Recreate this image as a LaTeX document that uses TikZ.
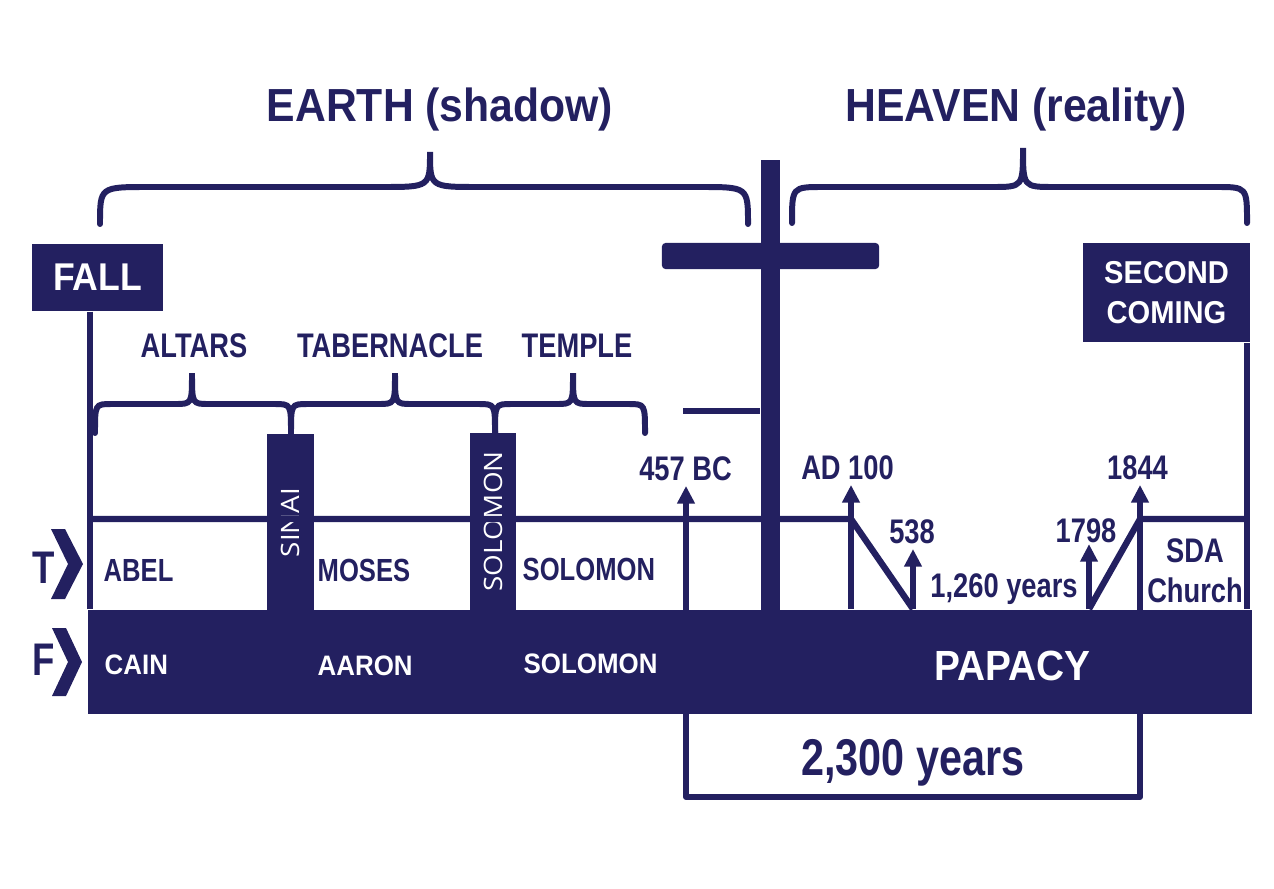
\documentclass[tikz,border=0pt]{standalone}
\usepackage{fontspec}
\setmainfont{Liberation Sans}
\newfontfamily\wideface[FakeStretch=0.92]{Liberation Sans}
\newfontfamily\narrowface[FakeStretch=0.8]{Liberation Sans}
\newfontfamily\pillarface[FakeStretch=1.1]{Open Sans}
\usetikzlibrary{arrows.meta}
\definecolor{chart_navy}{RGB}{35,32,96}

\tikzset{
  navyline/.style={draw=chart_navy, line width=1.8pt, line join=round},
  bracket/.style={draw=chart_navy, line width=1.7pt, line cap=round},
  datearrow/.style={draw=chart_navy, line width=1.7pt, line join=round,
    -{Triangle[width=4.8pt,length=5pt]}},
  navyblock/.style={fill=chart_navy, inner sep=0pt},
  headlabel/.style={anchor=base, inner sep=0pt, text=chart_navy,
    font=\wideface\bfseries\fontsize{13.2}{16}\selectfont},
  eralabel/.style={anchor=base, inner sep=0pt, text=chart_navy,
    font=\narrowface\bfseries\fontsize{9.7}{12}\selectfont},
  datelabel/.style={anchor=base, inner sep=0pt, text=chart_navy,
    font=\narrowface\bfseries\fontsize{9.7}{11.4}\selectfont},
  truelabel/.style={anchor=base west, inner sep=0pt, text=chart_navy,
    font=\narrowface\bfseries\fontsize{9.1}{11}\selectfont},
  falselabel/.style={anchor=base west, inner sep=0pt, text=white,
    font=\wideface\bfseries\fontsize{8}{10}\selectfont},
  pillar/.style={navyblock, rotate=90, text=white,
    font=\pillarface\fontsize{7.2}{9}\selectfont,
    minimum width=1.76cm, minimum height=0.46cm},
  rowmark/.style={anchor=base west, inner sep=0pt, text=chart_navy,
    font=\narrowface\bfseries\fontsize{13}{15}\selectfont},
}

% left x, tip x, right x, bar y, tip y, end y, curl
\newcommand{\topbrace}[7]{%
  \draw[bracket] (#1,#6) .. controls (#1,#4) .. (#1+#7,#4) -- (#2-#7,#4)
    .. controls (#2,#4) .. (#2,#5) .. controls (#2,#4) .. (#2+#7,#4)
    -- (#3-#7,#4) .. controls (#3,#4) .. (#3,#6);}

\begin{document}
\begin{tikzpicture}[x=0.01cm, y=-0.01cm]
  \useasboundingbox (0,0) rectangle (1274,888);

  % earth / heaven
  \node[headlabel] (earth) at (440,122) {EARTH (shadow)};
  \node[headlabel] (heaven) at (1016,122) {HEAVEN (reality)};
  \topbrace{100}{430}{748}{187}{152}{224}{48}
  \topbrace{792}{1023}{1247}{187}{148}{223}{31}

  % fall, cross, second coming
  \node[navyblock, minimum width=1.31cm, minimum height=0.67cm, text=white,
        font=\wideface\bfseries\fontsize{11}{13}\selectfont]
        (fall) at (97.5,277.5) {FALL};
  \node[navyblock, minimum width=1.67cm, minimum height=0.99cm, align=center,
        text=white, font=\wideface\bfseries\fontsize{9}{11.4}\selectfont]
        (second) at (1166.5,292.5) {SECOND\\COMING};
  \node[navyblock, minimum width=0.19cm, minimum height=4.5cm]
        (post) at (770.5,385) {};
  \node[navyblock, rounded corners=1pt, minimum width=2.17cm,
        minimum height=0.26cm] (beam) at (770.5,256) {};

  % sanctuary eras
  \node[eralabel] (altars) at (194,357) {ALTARS};
  \node[eralabel] (tabernacle) at (390,357) {TABERNACLE};
  \node[eralabel] (temple) at (577,357) {TEMPLE};
  \topbrace{95}{192}{291}{404}{373}{433}{17}
  \topbrace{291}{395}{495}{404}{373}{433}{17}
  \topbrace{495}{573}{645}{404}{373}{433}{17}

  % papacy bar and pillars
  \node[navyblock, minimum width=11.64cm, minimum height=1.04cm,
        anchor=north west] (bar) at (87,609) {};
  \node[pillar] (sinai) at (290.5,522.5) {SINAI};
  \node[pillar] (solomon) at (493,521.5) {SOLOMON};

  \coordinate (tl) at (90,519);
  \coordinate (tr) at (1247,519);
  \coordinate (sw) at (686,797);
  \coordinate (se) at (1140,797);
  \coordinate (p100) at (851,609);
  \coordinate (p538) at (913,609);
  \coordinate (p1798) at (1089,609);
  \coordinate (ledge) at (683,411);

  \draw[navyline] (fall.south -| tl) -- (tl |- bar.north);
  \draw[navyline] (second.south -| tr) -- (tr |- bar.north);
  \draw[navyline] (tl) -- (tl -| p100) -- (p538);
  \draw[navyline] (p1798) -- (tr -| se) -- (tr);
  \draw[navyline] (ledge) -- (ledge -| post.west);

  % dates
  \node[datelabel] (bc457) at (685.5,480) {457 BC};
  \node[datelabel] (ad100) at (847.5,479) {AD 100};
  \node[datelabel] (y538) at (912,543) {538};
  \node[datelabel] (y1798) at (1086,542) {1798};
  \node[datelabel] (y1844) at (1137.5,479) {1844};
  \node[datelabel] (span1260) at (1004,597) {1,260 years};
  \node[datelabel, anchor=north, align=center] (sda) at (1195,538) {SDA\\Church};

  \draw[datearrow, shorten >=1.4pt] (se) -- (sw) -- (sw |- bc457.south);
  \draw[datearrow, shorten >=1.4pt] (sw) -- (se) -- (se |- y1844.south);
  \draw[datearrow, shorten >=1.4pt] (p100) -- (p100 |- ad100.south);
  \draw[datearrow, shorten >=1.4pt] (p538) -- (p538 |- y538.south);
  \draw[datearrow, shorten >=0.3pt] (p1798) -- (p1798 |- y1798.south);
  \node[datelabel, font=\narrowface\bfseries\fontsize{14.7}{17}\selectfont]
        (span2300) at (913,775) {2,300 years};

  % true and false lines
  \node[rowmark] (tmark) at (32,583) {T};
  \node[rowmark] (fmark) at (32,675) {F};
  \fill[chart_navy] (51,529) -- (65,529) -- (83,564) -- (65,599) -- (51,599)
    -- (68,564) -- cycle;
  \fill[chart_navy] (52,628) -- (66,628) -- (82,662) -- (66,696) -- (52,696)
    -- (68,662) -- cycle;
  \node[truelabel] (abel) at (103,581) {ABEL};
  \node[truelabel] (moses) at (317,581) {MOSES};
  \node[truelabel] (solomontrue) at (522,580) {SOLOMON};
  \node[falselabel] (cain) at (104,674) {CAIN};
  \node[falselabel] (aaron) at (317,675) {AARON};
  \node[falselabel] (solomonfalse) at (523,673) {SOLOMON};
  \node[falselabel, anchor=base,
        font=\wideface\bfseries\fontsize{12}{14}\selectfont]
        (papacy) at (1012,680) {PAPACY};
\end{tikzpicture}
\end{document}
